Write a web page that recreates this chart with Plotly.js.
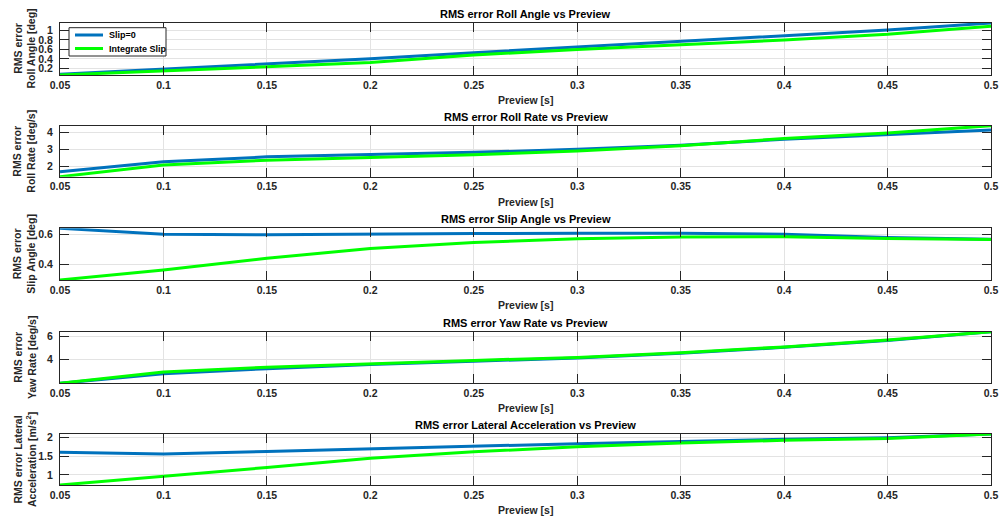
<!DOCTYPE html>
<html>
<head>
<meta charset="utf-8">
<script src="https://cdn.plot.ly/plotly-3.0.1.min.js"></script>
<style>html,body{margin:0;padding:0;background:#fff;}#chart{width:1001px;height:522px;}</style>
</head>
<body>
<div id="chart"></div>
<script>
// ---- data ----
const preview = [0.05, 0.1, 0.15, 0.2, 0.25, 0.3, 0.35, 0.4, 0.45, 0.5];
const seriesNames = ["Slip=0", "Integrate Slip"];

const rollAngleSlip0 = [0.075, 0.18, 0.285, 0.40, 0.53, 0.65, 0.77, 0.89, 1.01, 1.16];
const rollAngleInteg = [0.057, 0.15, 0.235, 0.32, 0.48, 0.60, 0.70, 0.80, 0.92, 1.09];

const rollRateSlip0 = [1.66, 2.26, 2.55, 2.68, 2.82, 3.00, 3.25, 3.60, 3.86, 4.16];
const rollRateInteg = [1.36, 2.06, 2.35, 2.52, 2.68, 2.90, 3.22, 3.65, 3.98, 4.42];

const slipSlip0 = [0.64, 0.600, 0.597, 0.602, 0.605, 0.607, 0.607, 0.600, 0.578, 0.567];
const slipInteg = [0.295, 0.362, 0.440, 0.505, 0.545, 0.570, 0.582, 0.584, 0.572, 0.565];

const yawSlip0 = [2.02, 2.83, 3.25, 3.60, 3.88, 4.15, 4.55, 5.05, 5.62, 6.37];
const yawInteg = [2.03, 2.97, 3.38, 3.68, 3.95, 4.20, 4.60, 5.09, 5.66, 6.37];

const latSlip0 = [1.61, 1.56, 1.63, 1.70, 1.78, 1.84, 1.90, 1.96, 2.00, 2.10];
const latInteg = [0.73, 0.955, 1.20, 1.45, 1.62, 1.76, 1.86, 1.93, 1.98, 2.10];

const xTickVals = [0.05, 0.1, 0.15, 0.2, 0.25, 0.3, 0.35, 0.4, 0.45, 0.5];
const xTickText = ["0.05", "0.1", "0.15", "0.2", "0.25", "0.3", "0.35", "0.4", "0.45", "0.5"];

const panelTitles = [
  "RMS error Roll Angle vs Preview",
  "RMS error Roll Rate vs Preview",
  "RMS error Slip Angle vs Preview",
  "RMS error Yaw Rate vs Preview",
  "RMS error Lateral Acceleration vs Preview"
];
const yTitles = [
  "RMS error<br>Roll Angle [deg]",
  "RMS error<br>Roll Rate [deg/s]",
  "RMS error<br>Slip Angle [deg]",
  "RMS error<br>Yaw Rate [deg/s]",
  "RMS error Lateral<br>Acceleration [m/s<sup>2</sup>]"
];
const yTickVals = [
  [0.2, 0.4, 0.6, 0.8, 1],
  [2, 3, 4],
  [0.4, 0.6],
  [4, 6],
  [1, 1.5, 2]
];
const xTitle = "Preview [s]";

// ---- layout geometry (pixels) ----
const W = 1001, H = 522;
const plotLeft = 60, plotRight = 991;
const panelTop = [23, 125.7, 228.3, 331.7, 434];
const panelBot = [75, 176.7, 280, 383.3, 485];

const pairs = [
  [rollAngleSlip0, rollAngleInteg],
  [rollRateSlip0, rollRateInteg],
  [slipSlip0, slipInteg],
  [yawSlip0, yawInteg],
  [latSlip0, latInteg]
];
const colors = ["#0072BD", "#00FF00"];
const FONT = "Liberation Sans, Arial, Helvetica, sans-serif";
const axisColor = "#262626";

const traces = [];
const layout = {
  width: W, height: H,
  margin: {l: 0, r: 0, t: 0, b: 0, pad: 0},
  paper_bgcolor: "#ffffff",
  plot_bgcolor: "#ffffff",
  font: {family: FONT, color: axisColor},
  showlegend: false,
  annotations: [],
  shapes: []
};

pairs.forEach((pair, i) => {
  const n = i + 1;
  const xa = n === 1 ? "x" : "x" + n;
  const ya = n === 1 ? "y" : "y" + n;
  pair.forEach((vals, j) => {
    traces.push({
      x: preview, y: vals, xaxis: xa, yaxis: ya,
      type: "scatter", mode: "lines",
      name: seriesNames[j],
      line: {color: colors[j], width: 3}
    });
  });
  const all = pair[0].concat(pair[1]);
  const ymin = Math.min(...all), ymax = Math.max(...all);
  const dom = [1 - panelBot[i] / H, 1 - panelTop[i] / H];
  const axCommon = {
    showline: true, linecolor: axisColor, linewidth: 1, mirror: "ticks",
    ticks: "inside", ticklen: 9, tickwidth: 1, tickcolor: axisColor,
    showgrid: true, gridcolor: "#e3e3e3", gridwidth: 1, zeroline: false,
    tickfont: {family: FONT, size: 10.5, weight: "bold", color: axisColor},
    automargin: false
  };
  layout[n === 1 ? "xaxis" : "xaxis" + n] = Object.assign({}, axCommon, {
    domain: [plotLeft / W, plotRight / W],
    anchor: ya,
    range: [preview[0], preview[preview.length - 1]],
    tickvals: xTickVals, ticktext: xTickText
  });
  layout[n === 1 ? "yaxis" : "yaxis" + n] = Object.assign({}, axCommon, {
    domain: dom,
    anchor: xa,
    range: [ymin, ymax],
    tickvals: yTickVals[i],
    ticklabelstandoff: 4
  });
  const midY = (panelTop[i] + panelBot[i]) / 2;
  layout.annotations.push({
    text: panelTitles[i], xref: "paper", yref: "paper",
    x: (plotLeft + plotRight) / 2 / W, y: 1 - (panelTop[i] - 9) / H,
    xanchor: "center", yanchor: "middle", showarrow: false,
    font: {family: FONT, size: 11, weight: "bold", color: "#000"}
  });
  layout.annotations.push({
    text: xTitle, xref: "paper", yref: "paper",
    x: (plotLeft + plotRight) / 2 / W, y: 1 - (panelBot[i] + 25) / H,
    xanchor: "center", yanchor: "middle", showarrow: false,
    font: {family: FONT, size: 10.5, weight: "bold", color: axisColor}
  });
  layout.annotations.push({
    text: yTitles[i], xref: "paper", yref: "paper",
    x: 24.5 / W, y: 1 - midY / H, textangle: -90,
    xanchor: "center", yanchor: "middle", showarrow: false,
    font: {family: FONT, size: 10.5, weight: "bold", color: axisColor}
  });
});

// ---- legend box (drawn in paper space, like MATLAB's) ----
const legBox = {x0: 69, x1: 166, y0: 27.7, y1: 56};
const legRows = [35, 48.5];
layout.shapes.push({
  type: "rect", xref: "paper", yref: "paper", layer: "above",
  x0: legBox.x0 / W, x1: legBox.x1 / W, y0: 1 - legBox.y1 / H, y1: 1 - legBox.y0 / H,
  line: {color: axisColor, width: 1}, fillcolor: "#ffffff"
});
seriesNames.forEach((nm, j) => {
  layout.shapes.push({
    type: "line", xref: "paper", yref: "paper", layer: "above",
    x0: 75 / W, x1: 103 / W, y0: 1 - legRows[j] / H, y1: 1 - legRows[j] / H,
    line: {color: colors[j], width: 3}
  });
  layout.annotations.push({
    text: nm, xref: "paper", yref: "paper",
    x: 107 / W, y: 1 - legRows[j] / H, xanchor: "left", yanchor: "middle",
    showarrow: false,
    font: {family: FONT, size: 9, weight: "bold", color: "#000"}
  });
});

Plotly.newPlot("chart", traces, layout, {displayModeBar: false, staticPlot: true});
</script>
</body>
</html>
